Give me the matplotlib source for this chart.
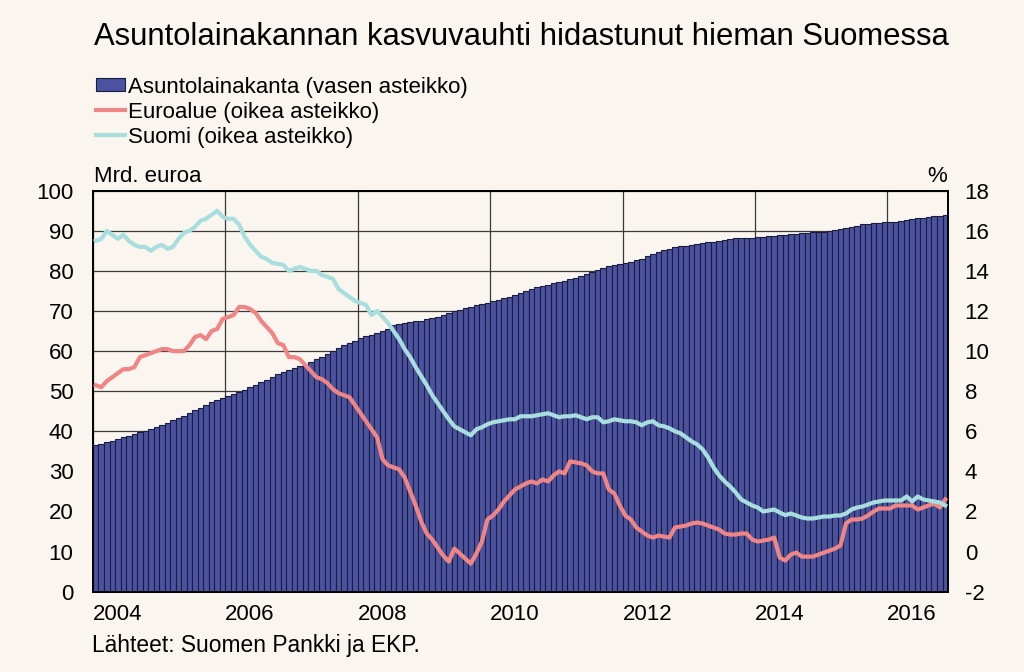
import numpy as np
import pandas as pd
import matplotlib
matplotlib.use('Agg')
import matplotlib.pyplot as plt
from matplotlib.patches import Patch
from matplotlib.lines import Line2D

# monthly data Jan 2004 - Nov 2016
months = pd.date_range('2004-01-01', periods=155, freq='MS')

# housing loan stock, bn euro (left scale)
loans = [36.5, 36.9, 37.3, 37.7, 38.1, 38.5, 38.9, 39.3, 39.8, 40.2, 40.6, 41.1,
         41.6, 42.1, 42.7, 43.3, 43.9, 44.5, 45.2, 45.9, 46.5, 47.2, 47.9, 48.4,
         48.8, 49.3, 49.8, 50.4, 51.0, 51.6, 52.2, 52.9, 53.5, 54.2, 54.8, 55.4,
         55.8, 56.2, 56.6, 57.3, 58.0, 58.6, 59.3, 60.0, 60.7, 61.4, 62.0, 62.6,
         63.2, 63.7, 64.1, 64.6, 65.1, 65.5, 66.4, 66.8, 67.0, 67.2, 67.4, 67.6,
         67.9, 68.2, 68.5, 69.0, 69.4, 69.9, 70.3, 70.7, 71.1, 71.4, 71.7, 72.0,
         72.4, 72.8, 73.2, 73.6, 74.0, 74.4, 74.9, 75.4, 75.9, 76.3, 76.6, 76.9,
         77.2, 77.5, 77.9, 78.3, 78.8, 79.3, 79.8, 80.3, 80.8, 81.2, 81.5, 81.8,
         82.0, 82.3, 82.6, 83.0, 83.6, 84.1, 84.6, 85.1, 85.5, 85.9, 86.2, 86.3,
         86.5, 86.7, 86.9, 87.1, 87.3, 87.5, 87.7, 87.9, 88.1, 88.2, 88.3, 88.3,
         88.4, 88.5, 88.6, 88.7, 88.9, 89.0, 89.2, 89.3, 89.4, 89.5, 89.6, 89.7,
         89.8, 89.9, 90.1, 90.4, 90.7, 91.0, 91.3, 91.6, 91.8, 91.9, 92.0, 92.1,
         92.1, 92.2, 92.4, 92.6, 92.9, 93.1, 93.3, 93.5, 93.7, 93.8, 93.9]

# growth rate, % (right scale)
euro = [8.3, 8.2, 8.5, 8.7, 8.9, 9.1, 9.1, 9.2, 9.7, 9.8, 9.9, 10.0,
        10.1, 10.1, 10.0, 10.0, 10.0, 10.3, 10.7, 10.8, 10.6, 11.0, 11.1, 11.6,
        11.7, 11.8, 12.2, 12.2, 12.1, 11.9, 11.5, 11.2, 10.9, 10.4, 10.3, 9.7,
        9.7, 9.6, 9.3, 9.0, 8.7, 8.6, 8.4, 8.1, 7.9, 7.8, 7.7, 7.3,
        6.9, 6.5, 6.1, 5.7, 4.6, 4.3, 4.2, 4.1, 3.7, 3.0, 2.3, 1.5,
        0.9, 0.6, 0.2, -0.2, -0.5, 0.15, -0.1, -0.35, -0.6, -0.1, 0.5, 1.6,
        1.8, 2.1, 2.5, 2.8, 3.1, 3.25, 3.4, 3.5, 3.4, 3.6, 3.5, 3.8,
        4.0, 3.9, 4.5, 4.45, 4.4, 4.3, 4.0, 3.9, 3.9, 3.1, 2.9, 2.3,
        1.8, 1.6, 1.2, 1.0, 0.8, 0.7, 0.8, 0.75, 0.7, 1.2, 1.25, 1.3,
        1.4, 1.45, 1.4, 1.3, 1.2, 1.1, 0.9, 0.85, 0.85, 0.9, 0.9, 0.6,
        0.5, 0.55, 0.6, 0.7, -0.3, -0.45, -0.15, -0.05, -0.25, -0.25, -0.25, -0.15,
        -0.05, 0.05, 0.15, 0.3, 1.4, 1.6, 1.6, 1.65, 1.8, 2.0, 2.15, 2.15,
        2.15, 2.3, 2.3, 2.3, 2.3, 2.1, 2.2, 2.3, 2.4, 2.2, 2.6]

suomi = [15.5, 15.6, 16.0, 15.8, 15.6, 15.8, 15.5, 15.3, 15.2, 15.2, 15.0, 15.2,
         15.3, 15.1, 15.2, 15.6, 15.9, 16.0, 16.2, 16.5, 16.6, 16.8, 17.0, 16.7,
         16.6, 16.6, 16.3, 15.7, 15.3, 15.0, 14.7, 14.6, 14.4, 14.35, 14.3, 14.0,
         14.1, 14.2, 14.1, 14.0, 14.0, 13.8, 13.7, 13.6, 13.1, 12.9, 12.7, 12.5,
         12.4, 12.3, 11.8, 12.0, 11.7, 11.4, 11.0, 10.6, 10.1, 9.7, 9.2, 8.75,
         8.3, 7.8, 7.4, 7.0, 6.6, 6.25, 6.1, 5.95, 5.8, 6.1, 6.2, 6.35,
         6.45, 6.5, 6.55, 6.6, 6.6, 6.75, 6.75, 6.75, 6.8, 6.85, 6.9, 6.8,
         6.7, 6.75, 6.75, 6.8, 6.7, 6.6, 6.7, 6.7, 6.45, 6.5, 6.6, 6.55,
         6.5, 6.5, 6.45, 6.3, 6.45, 6.5, 6.3, 6.25, 6.15, 6.0, 5.9, 5.7,
         5.5, 5.35, 5.1, 4.7, 4.2, 3.8, 3.5, 3.25, 2.95, 2.6, 2.45, 2.3,
         2.2, 2.0, 2.05, 2.1, 1.95, 1.82, 1.9, 1.8, 1.7, 1.65, 1.65, 1.7,
         1.75, 1.75, 1.8, 1.8, 1.9, 2.1, 2.2, 2.25, 2.35, 2.45, 2.5, 2.55,
         2.55, 2.55, 2.55, 2.75, 2.5, 2.75, 2.6, 2.55, 2.5, 2.45, 2.3]

year_ticks = [2004, 2006, 2008, 2010, 2012, 2014, 2016]

bg = '#faf5ef'
bar_col = '#4b52a0'
euro_col = '#f08585'
fi_col = '#a8dede'
fs = 16

plt.rcParams['font.family'] = ['Liberation Sans', 'DejaVu Sans']
plt.rcParams['axes.unicode_minus'] = False

# decimal year for each month
xm = months.year + (months.month - 1) / 12.0

fig = plt.figure(figsize=(10.24, 6.72), dpi=100, facecolor=bg)
ax = fig.add_axes([0.0908, 0.1195, 0.8350, 0.5967])
ax.set_facecolor(bg)

ax.bar(xm + 1/24, loans, width=1/12, color=bar_col, edgecolor='#1c1c3c',
       linewidth=0.8, zorder=2)
ax.set_xlim(xm[0], xm[-1] + 1/12)
ax.set_ylim(0, 100)
ax.set_yticks(np.arange(0, 101, 10))
ax.set_xticks(year_ticks)
ax.set_xticklabels([str(y) for y in year_ticks], ha='left')
ax.grid(True, color='#3a3a3a', linewidth=0.9, zorder=0)
ax.set_axisbelow(True)
ax.tick_params(axis='y', length=0, pad=14, labelsize=fs)
ax.tick_params(axis='x', length=0, pad=9, labelsize=fs)
for s in ax.spines.values():
    s.set_linewidth(1.3)
    s.set_color('black')
    s.set_zorder(5)

ax2 = ax.twinx()
ax2.plot(xm + 1/24, euro, color=euro_col, linewidth=3.0, zorder=3)
ax2.plot(xm + 1/24, suomi, color=fi_col, linewidth=3.0, zorder=3)
ax2.set_ylim(-2, 18)
ax2.set_yticks(np.arange(-2, 19, 2))
ax2.tick_params(axis='y', length=0, pad=12, labelsize=fs)
for s in ax2.spines.values():
    s.set_linewidth(1.3)

fig.text(0.092, 0.945, 'Asuntolainakannan kasvuvauhti hidastunut hieman Suomessa',
         fontsize=22.3, va='center', ha='left')
fig.text(0.092, 0.738, 'Mrd. euroa', fontsize=fs, va='center', ha='left')
fig.text(0.925, 0.738, '%', fontsize=fs, va='center', ha='right')
fig.text(0.090, 0.040, 'Lähteet: Suomen Pankki ja EKP.', fontsize=16.4,
         va='center', ha='left')

handles = [Patch(facecolor=bar_col, edgecolor='#1c1c3c', linewidth=0.8),
           Line2D([], [], color=euro_col, linewidth=3.0),
           Line2D([], [], color=fi_col, linewidth=3.0)]
labels = ['Asuntolainakanta (vasen asteikko)', 'Euroalue (oikea asteikko)',
          'Suomi (oikea asteikko)']
fig.legend(handles, labels, loc='upper left', bbox_to_anchor=(0.094, 0.886),
           frameon=False, fontsize=fs, handlelength=1.3, handleheight=0.55,
           handletextpad=0.15, labelspacing=0.18, borderaxespad=0, borderpad=0)

fig.savefig('out.png', dpi=100, facecolor=bg)
